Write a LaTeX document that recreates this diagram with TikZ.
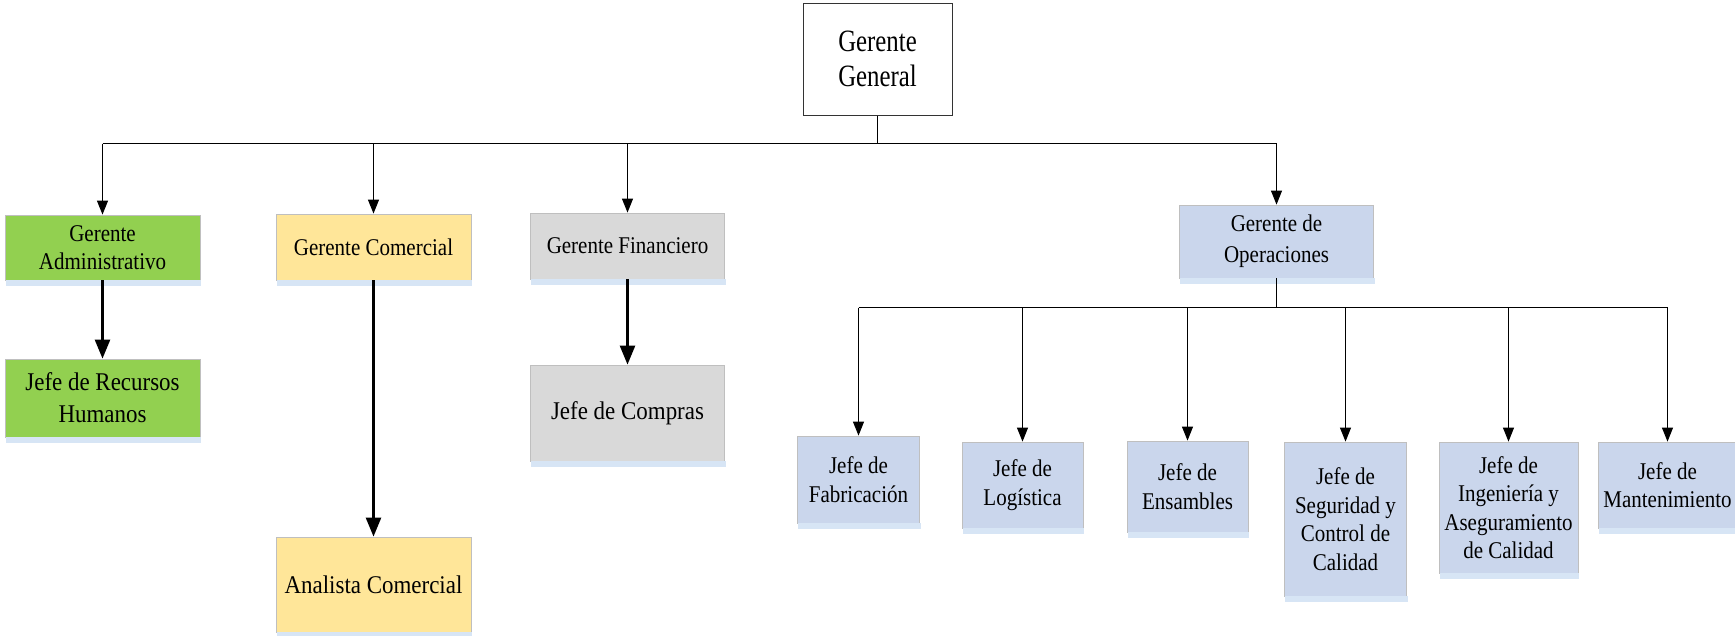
\documentclass[tikz,border=0pt]{standalone}
\usepackage{fontspec}
\setmainfont{Liberation Serif}
\newfontfamily\fGG[FakeStretch=0.8]{Liberation Serif}
\newfontfamily\fMid[FakeStretch=0.875]{Liberation Serif}
\newfontfamily\fSub[FakeStretch=0.9]{Liberation Serif}
\usetikzlibrary{arrows.meta}
\definecolor{cgreen}{HTML}{92D050}
\definecolor{cyellow}{HTML}{FFE699}
\definecolor{cgray}{HTML}{D9D9D9}
\definecolor{cblue}{HTML}{CAD6EC}
\definecolor{cshadow}{HTML}{D7E5F5}
\definecolor{cborder}{HTML}{BFBFBF}
\tikzset{
  box/.style={rectangle, draw=cborder, line width=0.8pt, inner sep=0pt, align=center, text=black},
  ggbox/.style={rectangle, draw=black!80, line width=1pt, fill=white, inner sep=0pt, align=center,
    font=\fGG\fontsize{31}{35.5}\selectfont},
  midtxt/.style={font=\fMid\fontsize{24}{28.5}\selectfont},
  gotxt/.style={font=\fMid\fontsize{24}{31}\selectfont},
  subtxt/.style={font=\fSub\fontsize{25.5}{32}\selectfont},
  opstxt/.style={font=\fMid\fontsize{24}{28.5}\selectfont},
  thinarr/.style={line width=1pt, -{Triangle[width=11pt,length=14pt]}},
  thickarr/.style={line width=2.5pt, -{Triangle[width=15pt,length=19pt]}},
  thinline/.style={line width=1pt},
}
\begin{document}
\begin{tikzpicture}[x=1pt,y=-1pt]
\useasboundingbox (0,0) rectangle (1735,635);
% nodes
\node[ggbox, minimum width=149pt, minimum height=112pt] (gg) at (877.5,59) {Gerente\\General};
\node[box, midtxt, fill=cgreen, minimum width=195pt, minimum height=65pt] (ga) at (102.5,247.5) {Gerente\\Administrativo};
\node[box, subtxt, fill=cgreen, minimum width=195pt, minimum height=78pt] (rh) at (102.5,398) {Jefe de Recursos\\Humanos};
\node[box, midtxt, fill=cyellow, minimum width=195pt, minimum height=66pt] (gc) at (373.5,247) {Gerente Comercial};
\node[box, subtxt, fill=cyellow, minimum width=195pt, minimum height=95pt] (ac) at (373.5,584.5) {Analista Comercial};
\node[box, midtxt, fill=cgray, minimum width=194pt, minimum height=66pt] (gf) at (627.5,246) {Gerente Financiero};
\node[box, subtxt, fill=cgray, minimum width=194pt, minimum height=96pt] (jc) at (627.5,413) {Jefe de Compras};
\node[box, gotxt, fill=cblue, minimum width=194pt, minimum height=73pt] (go) at (1276.5,241.5) {Gerente de\\Operaciones};
\node[box, opstxt, fill=cblue, minimum width=122pt, minimum height=87pt] (fab) at (858.5,479.5) {Jefe de\\Fabricación};
\node[box, opstxt, fill=cblue, minimum width=121pt, minimum height=86pt] (log) at (1022.5,485) {Jefe de\\Logística};
\node[box, opstxt, fill=cblue, minimum width=121pt, minimum height=91pt] (ens) at (1187.5,486.5) {Jefe de\\Ensambles};
\node[box, opstxt, fill=cblue, minimum width=122pt, minimum height=154pt] (seg) at (1345.5,519) {Jefe de\\Seguridad y\\Control de\\Calidad};
\node[box, opstxt, fill=cblue, minimum width=139pt, minimum height=131pt] (ing) at (1508.5,507.5) {Jefe de\\Ingeniería y\\Aseguramiento\\de Calidad};
\node[box, opstxt, fill=cblue, minimum width=138pt, minimum height=86pt] (man) at (1667.5,485) {Jefe de\\Mantenimiento};
% reflection strips
\foreach \n in {ga,rh,gc,ac,gf,jc,go,fab,log,ens,seg,ing,man}{
  \fill[cshadow] ([xshift=1pt]\n.south west) rectangle ([xshift=1pt,yshift=-5.5pt]\n.south east);
}
% connectors
\coordinate (busT) at (877.5,143.5);
\coordinate (busO) at (1276.5,307.5);
\draw[thinline] (gg.south) -- (busT);
\draw[thinline] (ga.north |- busT) -- (go.north |- busT);
\foreach \n in {ga,gc,gf,go}{
  \draw[thinarr] (\n.north |- busT) -- (\n.north);
}
\draw[thickarr] (ga.south) -- (rh.north);
\draw[thickarr] (gc.south) -- (ac.north);
\draw[thickarr] (gf.south) -- (jc.north);
\draw[thinline] (go.south) -- (busO);
\draw[thinline] (fab.north |- busO) -- (man.north |- busO);
\foreach \n in {fab,log,ens,seg,ing,man}{
  \draw[thinarr] (\n.north |- busO) -- (\n.north);
}
\end{tikzpicture}
\end{document}
